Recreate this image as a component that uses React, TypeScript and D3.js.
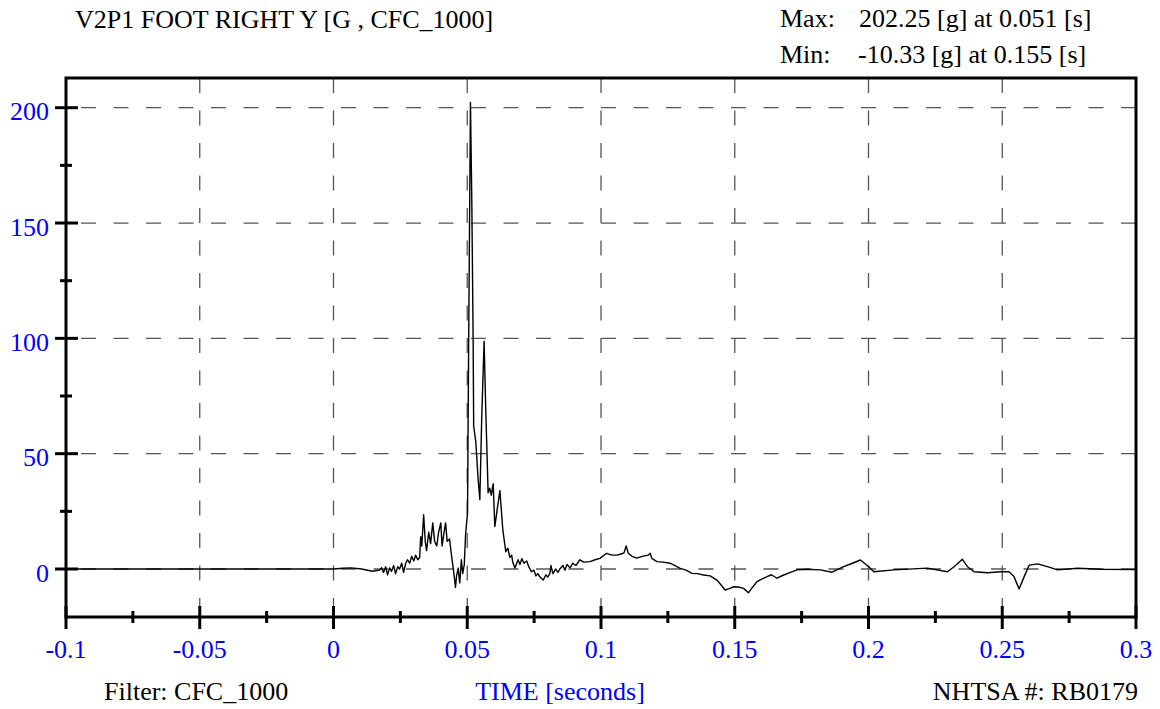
import React from "react";
import * as d3 from "d3";

const TITLE = "V2P1 FOOT RIGHT Y [G , CFC_1000]";
const MAX_LABEL = "Max:";
const MAX_VALUE = "202.25 [g] at 0.051 [s]";
const MIN_LABEL = "Min:";
const MIN_VALUE = "-10.33 [g] at 0.155 [s]";
const FILTER_TEXT = "Filter: CFC_1000";
const X_TITLE = "TIME [seconds]";
const ID_TEXT = "NHTSA #: RB0179";

const xTicks = [-0.1, -0.05, 0, 0.05, 0.1, 0.15, 0.2, 0.25, 0.3];
const xTickLabels = ["-0.1", "-0.05", "0", "0.05", "0.1", "0.15", "0.2", "0.25", "0.3"];
const xMinorTicks = [-0.075, -0.025, 0.025, 0.075, 0.125, 0.175, 0.225, 0.275];
const yTicks = [0, 50, 100, 150, 200];
const yTickLabels = ["0", "50", "100", "150", "200"];
const yMinorTicks = [25, 75, 125, 175];

const times = [
  -0.1, 0, 0.0034, 0.0067, 0.0105, 0.0146, 0.0172, 0.018, 0.0187, 0.0195, 0.0202,
  0.021, 0.0217, 0.0225, 0.0232, 0.024, 0.0247, 0.0255, 0.0262, 0.027, 0.0277,
  0.0285, 0.0292, 0.03, 0.0307, 0.0315, 0.0322, 0.0326, 0.033, 0.0337, 0.0343,
  0.0348, 0.0356, 0.0363, 0.0371, 0.0378, 0.0386, 0.0393, 0.0401, 0.0406, 0.0412,
  0.0419, 0.0425, 0.0434, 0.0442, 0.0448, 0.0456, 0.046, 0.0466, 0.0472, 0.0478,
  0.0483, 0.0489, 0.0494, 0.0501, 0.0506, 0.0512, 0.0517, 0.0522, 0.0524, 0.0532,
  0.054, 0.0547, 0.0554, 0.0563, 0.0569, 0.0578, 0.0584, 0.059, 0.0597, 0.0603,
  0.0611, 0.0622, 0.0633, 0.0644, 0.0652, 0.0659, 0.0666, 0.067, 0.0678, 0.069,
  0.0697, 0.0704, 0.0712, 0.0722, 0.073, 0.074, 0.0749, 0.0757, 0.0764, 0.0772,
  0.0784, 0.0794, 0.0801, 0.0809, 0.0813, 0.082, 0.0831, 0.0839, 0.0846, 0.0858,
  0.0865, 0.0873, 0.0884, 0.0895, 0.0906, 0.0921, 0.0936, 0.0959, 0.0978, 0.0996,
  0.1021, 0.1041, 0.1059, 0.1075, 0.1086, 0.1094, 0.1102, 0.1116, 0.1134, 0.1154,
  0.1176, 0.1184, 0.119, 0.1209, 0.1232, 0.1258, 0.1277, 0.1296, 0.1318, 0.134,
  0.136, 0.1383, 0.1408, 0.1433, 0.1446, 0.1464, 0.148, 0.1496, 0.1513, 0.1533,
  0.1551, 0.1566, 0.1583, 0.1599, 0.1621, 0.1637, 0.1658, 0.1683, 0.1708, 0.1733,
  0.177, 0.182, 0.1864, 0.1907, 0.194, 0.197, 0.2001, 0.202, 0.2095, 0.222,
  0.2295, 0.232, 0.2351, 0.237, 0.2395, 0.2445, 0.2494, 0.2525, 0.2544, 0.2563,
  0.2582, 0.2601, 0.2632, 0.2669, 0.2707, 0.2782, 0.2869, 0.3,
];

const values = [
  0, 0, 0.3, 0.5, 0, -1, -0.5, 0.5, -1.5, 1, -2.5,
  0.5, -1, 1.5, -2, 1, 0, 2.5, -1.5, 2.5, 4,
  2.5, 5.5, 3.5, 6, 4, 5, 14, 10, 23.5, 12,
  8, 16, 11, 20, 12, 10, 16, 20, 10, 15,
  20, 12, 13, 5, 0, -8, -3, 0.4, -6, 4,
  -2, 2, 15.6, 24, 110, 202.25, 160, 99.6, 62, 55,
  40, 30, 65, 98.8, 70, 33, 35, 32, 37, 18.4,
  25, 34, 17, 7.5, 9, 5, 6, 3, 0.4, 4,
  2, 4.5, 2.5, 3.5, 1, -1.2, -0.5, -3, -2, -3.5,
  -4.8, -2.5, -3.5, -1.9, 1.5, -2, 0, -1.5, 0, 1.5,
  -0.5, 2, 0.5, 2.5, 1.5, 4, 3, 3.2, 4, 4.6,
  6.8, 6, 6, 6.5, 7, 10, 6.8, 5.5, 4.7, 5.5,
  6, 6.8, 4.6, 3.2, 3, 2.5, 1.5, 0.3, -0.5, -1.9,
  -2, -2.6, -3, -4.8, -6.5, -9.1, -8.5, -7.7, -7.8, -8.4,
  -10.33, -8, -5.5, -4.5, -3.3, -2.5, -4, -2.6, -1.5, -0.4,
  -0.1, -0.4, -1.4, 1, 2.5, 3.9, 1, -1.2, -0.4, 0.4,
  -1.2, 1, 4.2, 1, -1.2, -1.6, -1.2, -1.2, -3.3, -8.7,
  -3.3, 1.7, 2.2, 1, -0.4, 0.3, -0.1, -0.2,
];

const W = 1160;
const H = 709;
const LEFT = 66;
const RIGHT = 1136;
const TOP = 78;
const BOTTOM = 617;
const FONT = "'Liberation Serif', 'Times New Roman', serif";
const FS = 26;

export default function App() {
  const x = d3.scaleLinear().domain([-0.1, 0.3]).range([LEFT, RIGHT]);
  const y = d3.scaleLinear().domain([0, 200]).range([569, 107.7]);
  const pts = times.map((t, i) => [t, values[i]] as [number, number]);
  const line = d3
    .line<[number, number]>()
    .x((d) => x(d[0]))
    .y((d) => y(d[1]));

  return (
    <svg
      width={W}
      height={H}
      style={{ position: "absolute", left: 0, top: 0, background: "#fff" }}
      fontFamily={FONT}
    >
      <rect x={0} y={0} width={W} height={H} fill="#fff" />
      {xTicks.slice(1, -1).map((t) => (
        <line
          key={"gx" + t}
          x1={x(t)}
          x2={x(t)}
          y1={TOP}
          y2={BOTTOM}
          stroke="#555"
          strokeWidth={1.3}
          strokeDasharray="15 17.5"
        />
      ))}
      {yTicks.map((v) => (
        <line
          key={"gy" + v}
          x1={RIGHT}
          x2={LEFT}
          y1={y(v)}
          y2={y(v)}
          stroke="#555"
          strokeWidth={1.3}
          strokeDasharray="15 17.5"
        />
      ))}
      <path d={line(pts) || ""} fill="none" stroke="#000" strokeWidth={1.4} strokeLinejoin="round" />
      <rect x={LEFT} y={TOP} width={RIGHT - LEFT} height={BOTTOM - TOP} fill="none" stroke="#000" strokeWidth={3} />
      {xTicks.map((t) => (
        <line key={"xt" + t} x1={x(t)} x2={x(t)} y1={BOTTOM - 11} y2={BOTTOM + 12} stroke="#000" strokeWidth={3} />
      ))}
      {xMinorTicks.map((t) => (
        <line key={"xm" + t} x1={x(t)} x2={x(t)} y1={BOTTOM - 6} y2={BOTTOM + 6} stroke="#000" strokeWidth={3} />
      ))}
      {xTicks.map((t, i) => (
        <text key={"xl" + t} x={x(t)} y={658} textAnchor="middle" fontSize={FS} fill="#0000ff">
          {xTickLabels[i]}
        </text>
      ))}
      {yTicks.map((v) => (
        <line key={"yt" + v} x1={LEFT - 11} x2={LEFT + 12} y1={y(v)} y2={y(v)} stroke="#000" strokeWidth={3} />
      ))}
      {yMinorTicks.map((v) => (
        <line key={"ym" + v} x1={LEFT - 6} x2={LEFT + 6} y1={y(v)} y2={y(v)} stroke="#000" strokeWidth={3} />
      ))}
      {yTicks.map((v, i) => (
        <text key={"yl" + v} x={49} y={y(v) + 12.7} textAnchor="end" fontSize={FS} fill="#0000ff">
          {yTickLabels[i]}
        </text>
      ))}
      <text x={75} y={28} fontSize={FS} fill="#000">{TITLE}</text>
      <text x={780} y={27} fontSize={FS} fill="#000">{MAX_LABEL}</text>
      <text x={859} y={27} fontSize={FS} fill="#000">{MAX_VALUE}</text>
      <text x={780} y={63} fontSize={FS} fill="#000">{MIN_LABEL}</text>
      <text x={858} y={63} fontSize={FS} fill="#000">{MIN_VALUE}</text>
      <text x={104} y={700} fontSize={FS} fill="#000">{FILTER_TEXT}</text>
      <text x={560} y={700} textAnchor="middle" fontSize={FS} fill="#0000ff">{X_TITLE}</text>
      <text x={1138} y={700} textAnchor="end" fontSize={FS} fill="#000">{ID_TEXT}</text>
    </svg>
  );
}
